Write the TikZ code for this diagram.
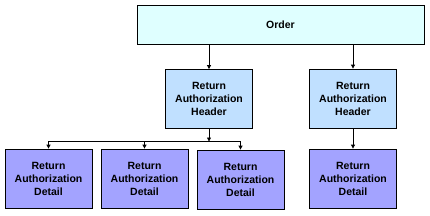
\documentclass[tikz,border=0pt]{standalone}
\usepackage{fontspec}
\setmainfont{Liberation Sans}
\usetikzlibrary{arrows.meta}
\definecolor{ordcol}{RGB}{223,255,255}
\definecolor{hdrcol}{RGB}{192,224,255}
\definecolor{detcol}{RGB}{163,163,255}

\begin{document}
\begin{tikzpicture}[x=1pt,y=-1pt,
	box/.style={draw=black,line width=0.8pt,align=center,inner sep=0pt,font=\fontsize{10.5}{13}\selectfont\bfseries},
	ord/.style={box,fill=ordcol,minimum width=287pt,minimum height=39pt},
	hdr/.style={box,fill=hdrcol,minimum width=87pt,minimum height=59pt},
	det/.style={box,fill=detcol,minimum width=87pt,minimum height=59pt},
	arr/.style={-{Triangle[length=4pt,width=4pt]},line width=0.8pt}]
		\useasboundingbox (0,0) rectangle (430,215);
		\node[ord] (order) at (280.5,24.5) {Order};
		\node[hdr] (hdrA) at (209,99) {Return\\Authorization\\Header};
		\node[hdr] (hdrB) at (353,98.5) {Return\\Authorization\\Header};
		\node[det] (detA) at (48.5,178.5) {Return\\Authorization\\Detail};
		\node[det] (detB) at (144.5,178.5) {Return\\Authorization\\Detail};
		\node[det] (detC) at (240.5,179.5) {Return\\Authorization\\Detail};
		\node[det] (detD) at (353,178.5) {Return\\Authorization\\Detail};
		\coordinate (bus) at (209,141.5);
		\draw[arr] (order.south -| hdrA) -- (hdrA);
		\draw[arr] (order.south -| hdrB) -- (hdrB);
		\draw[arr] (hdrA) -- (bus);
		\foreach \d in {detA,detB,detC}
		\draw[arr] (bus) -| (\d);
		\draw[arr] (hdrB) -- (detD);
\end{tikzpicture}
\end{document}
